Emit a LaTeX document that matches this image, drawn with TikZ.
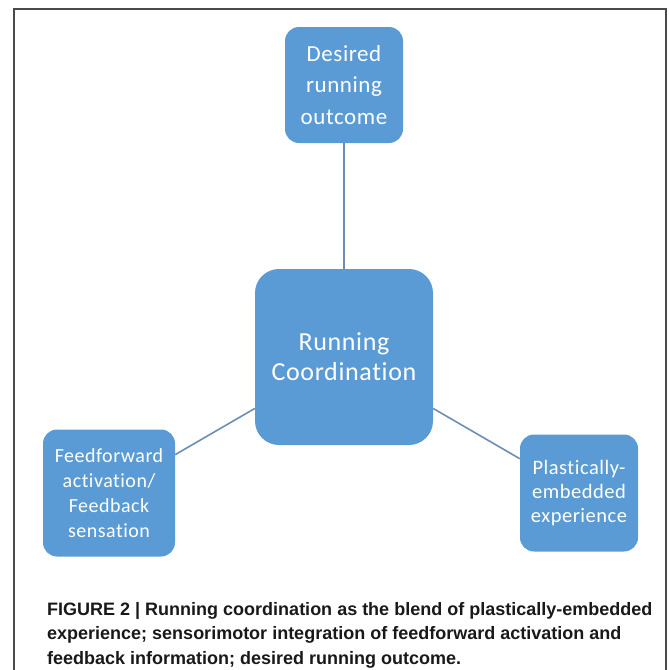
\documentclass[tikz,border=0pt]{standalone}
\usepackage{fontspec}
\setmainfont{Carlito}[Ligatures=CommonOff, LetterSpace=2.5]
\newfontfamily\capfont{Liberation Sans}
\definecolor{boxblue}{HTML}{5B9BD5}
\definecolor{linkblue}{HTML}{6C8EB2}
\definecolor{framegray}{HTML}{4A4A4A}
\begin{document}
\begin{tikzpicture} [x=1pt,y=-1pt,
  blob/.style={fill=boxblue, rounded corners=14pt, text=white, align=center, inner sep=0pt},
  link/.style={draw=linkblue, line width=1.6pt}]

\useasboundingbox (0,0) rectangle (669,670);

% frame
\draw [framegray, line width=1.5pt] (14,670) -- (14,9) -- (666,9) -- (666,670);

\node [blob, minimum width=118pt, minimum height=116pt, font=\fontsize{23}{31.5}\selectfont] (outcome) at (344,85) {Desired\\running\\outcome};
\node [blob, minimum width=178pt, minimum height=176pt, rounded corners=24pt, font=\fontsize{26}{30}\selectfont] (coord) at (344,357) {Running\\Coordination};
\node [blob, minimum width=132pt, minimum height=127pt, font=\fontsize{20}{25}\selectfont] (feed) at (109,493) {Feedforward\\activation/\\Feedback\\sensation};
\node [blob, minimum width=118pt, minimum height=117pt, font=\fontsize{20.5}{24}\selectfont] (plastic) at (579,493) {Plastically-\\embedded\\experience};

\draw [link] (outcome) -- (coord);
\draw [link] (feed) -- (coord);
\draw [link] (plastic) -- (coord);

% caption
\node [anchor=north west, align=left, inner sep=0pt, text=black!90,
  font=\capfont\bfseries\fontsize{18}{24.5}\selectfont] (caption) at (47,602)
  {FIGURE 2 | Running coordination as the blend of plastically-embedded\\
   experience; sensorimotor integration of feedforward activation and\\
   feedback information; desired running outcome.};

\end{tikzpicture}
\end{document}
